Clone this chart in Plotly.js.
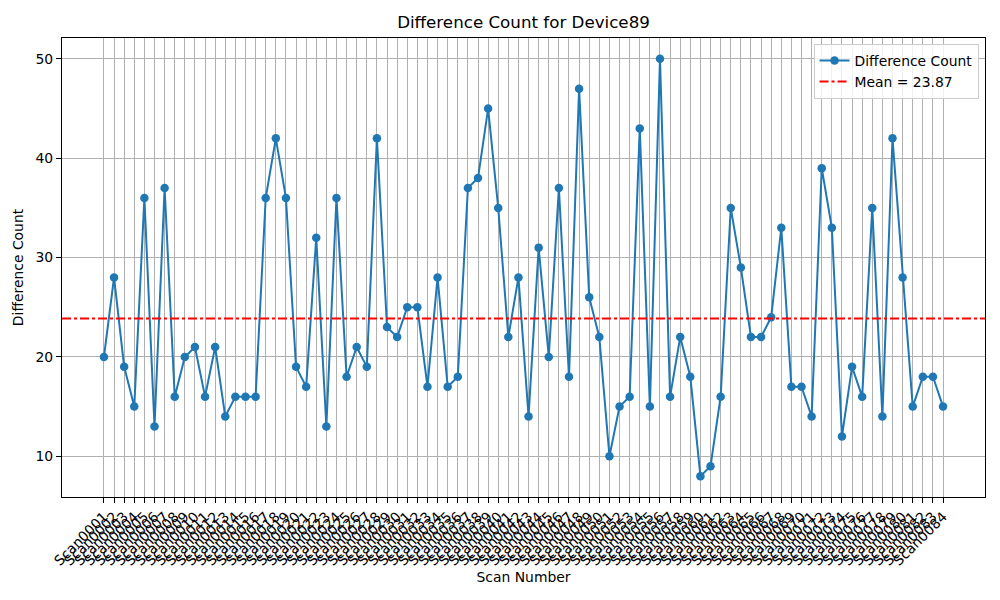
<!DOCTYPE html>
<html>
<head>
<meta charset="utf-8">
<script src="https://cdn.plot.ly/plotly-3.0.1.min.js"></script>
<style>
  html, body { margin: 0; padding: 0; background: #fff; }
  #chart { width: 1000px; height: 600px; }
</style>
</head>
<body>
<div id="chart"></div>
<script>
// scan labels Scan0001 .. Scan0084
const scans = [];
for (let i = 1; i <= 84; i++) {
    scans.push('Scan' + String(i).padStart(4, '0'));
}

const diffCounts = [
    20, 28, 19, 15, 36, 13, 37, 16, 20, 21,
    16, 21, 14, 16, 16, 16, 36, 42, 36, 19,
    17, 32, 13, 36, 18, 21, 19, 42, 23, 22,
    25, 25, 17, 28, 17, 18, 37, 38, 45, 35,
    22, 28, 14, 31, 20, 37, 18, 47, 26, 22,
    10, 15, 16, 43, 15, 50, 16, 22, 18, 8,
    9, 16, 35, 29, 22, 22, 24, 33, 17, 17,
    14, 39, 33, 12, 19, 16, 35, 14, 42, 28,
    15, 18, 18, 15
];

const yTicks = [10, 20, 30, 40, 50];

const mean = diffCounts.reduce((a, b) => a + b, 0) / diffCounts.length;

const font = 'DejaVu Sans, sans-serif';
const fs = 13.9;

const countTrace = {
    type: 'scatter',
    mode: 'lines+markers',
    x: scans,
    y: diffCounts,
    name: 'Difference Count',
    line: { color: '#1f77b4', width: 2 },
    marker: { color: '#1f77b4', size: 8.5 },
};

// legend entry only, the line itself is a shape spanning the axes
const meanTrace = {
    type: 'scatter',
    mode: 'lines',
    x: [null],
    y: [null],
    name: 'Mean = ' + mean.toFixed(2),
    line: { color: 'red', width: 2, dash: 'dashdot' },
};

const layout = {
    width: 1000,
    height: 600,
    margin: { l: 62, r: 15, t: 38, b: 103 },
    paper_bgcolor: '#fff',
    plot_bgcolor: '#fff',
    font: { family: font, size: fs, color: '#000' },
    title: {
        text: 'Difference Count for Device89',
        font: { family: font, size: 16.7, color: '#000' },
        x: 0.5 + (62 - 15) / 2000,
        xanchor: 'center',
        y: 0.963,
        yanchor: 'middle',
    },
    xaxis: {
        type: 'category',
        range: [-4.15, 87.15],
        tickangle: -45,
        tickmode: 'array',
        tickvals: scans,
        ticktext: scans,
        ticks: 'outside',
        ticklen: 5,
        tickcolor: '#000',
        tickfont: { family: font, size: fs },
        showgrid: true,
        gridcolor: '#b0b0b0',
        gridwidth: 1,
        showline: true,
        linecolor: '#000',
        linewidth: 1,
        mirror: true,
        zeroline: false,
        title: { text: 'Scan Number', font: { family: font, size: fs }, standoff: 4 },
    },
    yaxis: {
        range: [5.9, 52.1],
        tickmode: 'array',
        tickvals: yTicks,
        ticks: 'outside',
        ticklen: 5,
        tickcolor: '#000',
        tickfont: { family: font, size: fs },
        showgrid: true,
        gridcolor: '#b0b0b0',
        gridwidth: 1,
        showline: true,
        linecolor: '#000',
        linewidth: 1,
        mirror: true,
        zeroline: false,
        title: { text: 'Difference Count', font: { family: font, size: fs }, standoff: 8 },
    },
    showlegend: true,
    legend: {
        x: 0.993,
        y: 0.987,
        xanchor: 'right',
        yanchor: 'top',
        bgcolor: 'rgba(255,255,255,0.8)',
        bordercolor: '#cccccc',
        borderwidth: 1,
        font: { family: font, size: fs },
        tracegroupgap: 0,
    },
    shapes: [{
        type: 'line',
        xref: 'paper',
        yref: 'y',
        x0: 0,
        x1: 1,
        y0: mean,
        y1: mean,
        line: { color: 'red', width: 2, dash: 'dashdot' },
        layer: 'above',
    }],
};

Plotly.newPlot('chart', [countTrace, meanTrace], layout, { displayModeBar: false });
</script>
</body>
</html>
